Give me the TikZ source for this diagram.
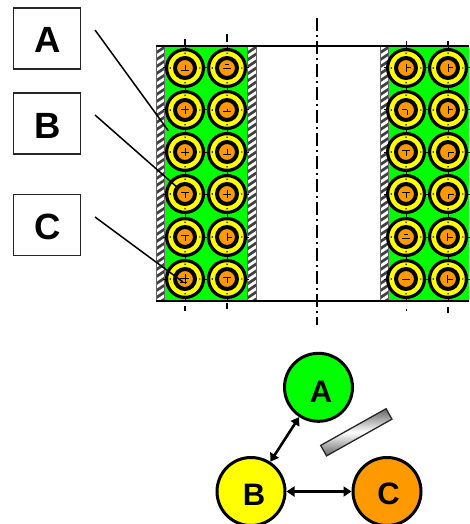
\documentclass[tikz,border=0pt]{standalone}
\usepackage{fontspec}
\setmainfont{Liberation Sans}
\usetikzlibrary{arrows.meta}
\definecolor{cgreen}{RGB}{0,255,0}
\definecolor{cyellow}{RGB}{255,255,0}
\definecolor{corange}{RGB}{255,153,0}
\newcommand{\placedtxt}[3]{\hspace*{#1}\raisebox{#2}[0pt][0pt]{\textbf{#3}}}
\tikzset{
  x=1pt,y=-1pt,
  labelbox/.style={draw=black!85,line width=1.5pt,fill=white,minimum width=67pt,minimum height=61pt,inner sep=0pt,font=\bfseries\fontsize{36.5}{36.5}\selectfont},
  leader/.style={draw=black,line width=1.5pt},
  bigcirc/.style={circle,draw=black,line width=3pt,minimum size=68pt,inner sep=0pt,font=\bfseries\fontsize{31}{31}\selectfont},
  link/.style={line width=2.6pt,{Triangle[length=8pt,width=10pt]}-{Triangle[length=8pt,width=10pt]}},
  tickline/.style={line width=1.4pt},
  cmark/.style={line width=1pt,black}
}
% inner marks of the small circles
\def\gU{(-4,2.5)--(4,2.5) (0,-3)--(0,2.5)}
\def\gP{(-4,0)--(4,0) (0,-4)--(0,4)}
\def\gT{(-4,-2)--(4,-2) (0,-2)--(0,4)}
\def\gM{(-4,0)--(4,0)}
\def\gD{(-4,1)--(4,1) (-2,-3)--(2,-3)}
\def\gB{(-4,2)--(4,2) (0,-1)--(0,2)}
\def\gR{(0,-4)--(0,4) (0,0)--(5,0)}
\def\gL{(-4,0)--(1,0) (1,0)--(1,5)}
\def\gC{(0,5)--(0,0)--(6,0)}
\def\gE{(-1,0)--(5,0) (-1,-4)--(-1,4)}
\def\gX{(-5,-1)--(4,-1) (-5,3)--(2,3) (0,-5)--(0,5)}
\begin{document}
\begin{tikzpicture}
\useasboundingbox (0,0) rectangle (469,524);
% green bands
\fill[cgreen] (164,46) rectangle (247,301);
\fill[cgreen] (388,46) rectangle (469,301);
% hatched walls
\foreach \xa in {156,247.5,380}{
  \begin{scope}
    \clip (\xa,46) rectangle (\xa+8.5,301);
    \fill[black!75] (\xa,46) rectangle (\xa+8.5,301);
    \foreach \k in {0,...,36}{
      \draw[white,line width=2.8pt] (\xa-1,46+\k*7+4) -- (\xa+9.5,46+\k*7-3);
    }
  \end{scope}
  \draw[black!60,line width=1pt] (\xa,46) rectangle (\xa+8.5,301);
}
% outer lines
\draw[black,line width=1.6pt] (156,46) -- (469,46);
\draw[black,line width=1.6pt] (156,301) -- (469,301);
% small circles
\foreach \cx/\cy/\g in {
  185/68/\gU,185/110/\gP,185/152/\gP,185/194/\gT,185/237/\gT,185/279/\gX,
  227/68/\gD,227/110/\gB,227/152/\gU,227/194/\gP,227/237/\gR,227/279/\gT,
  406/68/\gR,406/110/\gL,406/152/\gT,406/194/\gT,406/237/\gD,406/279/\gM,
  448/68/\gR,448/110/\gR,448/152/\gC,448/194/\gC,448/237/\gE,448/279/\gE}{
  \begin{scope}[shift={(\cx,\cy)}]
    \draw[cmark] (-22,0)--(-18,0) (18,0)--(22,0) (0,-22)--(0,-18) (0,18)--(0,22);
    \fill[cyellow,draw=black,line width=3.2pt] (0,0) circle (18.4);
    \fill[corange,draw=black,line width=4pt] (0,0) circle (10);
    \fill[black] (-14.8,0) circle (0.8) (14.8,0) circle (0.8) (0,-14.8) circle (0.8) (0,14.8) circle (0.8);
    \draw[cmark] \g;
  \end{scope}
}
% centre line and ticks
\draw[black,line width=1.1pt,dash pattern=on 13pt off 4pt on 2pt off 4pt] (317,18) -- (317,325);
\draw[tickline] (185,39)--(185,46) (227,34)--(227,42) (406.5,41)--(406.5,46) (448,41)--(448,46);
\draw[tickline] (185,306)--(185,311) (227,303)--(227,309) (406.5,309)--(406.5,311) (448,307)--(448,313);
% label boxes and leaders
\node[labelbox] (la) at (47.2,38.5) {\placedtxt{0pt}{-14.1pt}{A}};
\node[labelbox] (lb) at (47.2,123.5) {\placedtxt{0pt}{-15.2pt}{B}};
\node[labelbox] (lc) at (47.2,225) {\placedtxt{0pt}{-14.4pt}{C}};
\coordinate (fa) at (95,30);
\coordinate (ta) at (168.5,131);
\coordinate (fb) at (95,115);
\coordinate (tb) at (178,188);
\coordinate (fc) at (95,217);
\coordinate (tc) at (183,282);
\draw[leader] (fa) -- (ta);
\draw[leader] (fb) -- (tb);
\draw[leader] (fc) -- (tc);
% lower diagram
\node[bigcirc,fill=cgreen] (ca) at (318.5,387.3) {\placedtxt{5pt}{-14.9pt}{A}};
\node[bigcirc,fill=cyellow] (cb) at (251,491.5) {\placedtxt{6pt}{-14pt}{B}};
\node[bigcirc,fill=corange] (cc) at (387,491.5) {\placedtxt{3pt}{-13pt}{C}};
\draw[link] (ca) -- (cb);
\draw[link] (cb) -- (cc);
\node[draw=black!85,line width=1.3pt,rotate=29.3,minimum width=75pt,minimum height=12pt,inner sep=0pt,
  top color=black!60,bottom color=black!60,middle color=white] (bar) at (356.3,432.3) {};
\end{tikzpicture}
\end{document}
